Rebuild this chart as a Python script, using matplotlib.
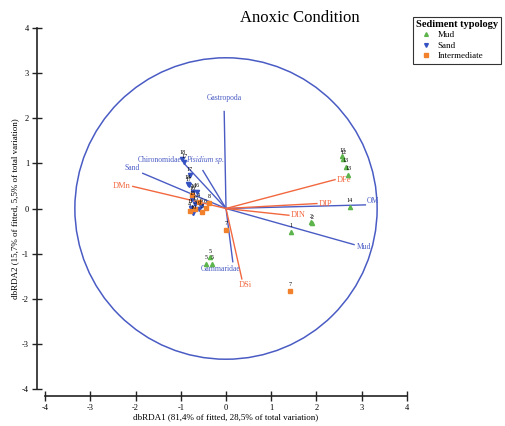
import numpy as np
import matplotlib
matplotlib.use("Agg")
import matplotlib.pyplot as plt
from matplotlib.patches import Circle

plt.rcParams["font.family"] = ["Liberation Serif", "DejaVu Serif"]
plt.rcParams["axes.unicode_minus"] = False

# vectores de variables biologicas (azul) y ambientales (rojo) - dbRDA1, dbRDA2
bio_nombres = ["Gastropoda", "Pisidium sp.", "Chironomidae", "Sand", "OM", "Mud", "Gammaridae"]
bio_x = [-0.04, -0.51, -0.91, -1.84, 3.08, 2.83, 0.15]
bio_y = [2.15, 0.84, 0.98, 0.78, 0.08, -0.80, -1.18]

amb_nombres = ["DMn", "DFe", "DIP", "DIN", "DSi"]
amb_x = [-2.06, 2.41, 2.01, 1.39, 0.35]
amb_y = [0.49, 0.64, 0.11, -0.15, -1.56]

# muestras por tipo de sedimento: coordenadas y numero de estacion
mud_x = [2.57, 2.59, 2.65, 2.70, 2.74, 1.88, 1.91, 1.44, -0.36, -0.44, -0.31]
mud_y = [1.16, 1.10, 0.93, 0.75, 0.04, -0.30, -0.33, -0.51, -1.08, -1.22, -1.22]
mud_id = ["13", "12", "13", "13", "14", "2", "2", "1", "5", "5", "5"]

sand_x = [-0.97, -0.92, -0.80, -0.85, -0.82, -0.72, -0.65, -0.75, -0.68, -0.78, -0.60, -0.72, -0.55]
sand_y = [1.10, 1.02, 0.74, 0.55, 0.52, 0.36, 0.37, 0.20, 0.10, 0.02, -0.02, -0.10, 0.05]
sand_id = ["18", "17", "17", "18", "17", "16", "16", "15", "15", "11", "9", "10", "6"]

inter_x = [-0.75, -0.60, -0.68, -0.52, -0.80, -0.45, -0.38, 0.00, 1.42]
inter_y = [0.30, 0.15, 0.00, -0.08, -0.05, 0.02, 0.13, -0.47, -1.82]
inter_id = ["16", "4", "3", "3", "4", "6", "8", "7", "7"]

ticks = [-4, -3, -2, -1, 0, 1, 2, 3, 4]
radio = 3.34

azul = "#4a5cc4"
rojo = "#f2683f"
verde = "#5db44c"
naranja = "#f2812e"
azul_pt = "#3552c2"

fig = plt.figure(figsize=(5.06, 4.26), dpi=100)
ax = fig.add_axes([45 / 506, 37 / 426, 362 / 506, 361 / 426])

ax.add_patch(Circle((0, 0), radio, fill=False, color=azul, lw=1.1))

# lineas desde el origen y etiquetas al final
alin_bio = {"Gastropoda": ("center", "bottom", 0.0, 0.22),
            "Pisidium sp.": ("center", "bottom", 0.05, 0.15),
            "Chironomidae": ("center", "bottom", -0.55, 0.0),
            "Sand": ("right", "bottom", -0.06, 0.02),
            "OM": ("left", "bottom", 0.04, 0.0),
            "Mud": ("left", "center", 0.05, -0.06),
            "Gammaridae": ("center", "top", -0.28, -0.08)}
for n, x, y in zip(bio_nombres, bio_x, bio_y):
    ax.plot([0, x], [0, y], color=azul, lw=1.0, zorder=2)
    ha, va, dx, dy = alin_bio[n]
    estilo = "italic" if n == "Pisidium sp." else "normal"
    ax.text(x + dx, y + dy, n, color=azul, fontsize=5.5, ha=ha, va=va, style=estilo)

alin_amb = {"DMn": ("right", "center", -0.04, 0.0),
            "DFe": ("left", "center", 0.03, 0.0),
            "DIP": ("left", "center", 0.03, 0.0),
            "DIN": ("left", "center", 0.03, 0.0),
            "DSi": ("center", "top", 0.07, -0.05)}
for n, x, y in zip(amb_nombres, amb_x, amb_y):
    ax.plot([0, x], [0, y], color=rojo, lw=1.0, zorder=2)
    ha, va, dx, dy = alin_amb[n]
    ax.text(x + dx, y + dy, n, color=rojo, fontsize=6, ha=ha, va=va)

ax.plot(mud_x, mud_y, "^", color=verde, ms=3, ls="none", zorder=3, label="Mud")
ax.plot(sand_x, sand_y, "v", color=azul_pt, ms=3, ls="none", zorder=3, label="Sand")
ax.plot(inter_x, inter_y, "s", color=naranja, ms=2.6, ls="none", zorder=3, label="Intermediate")

for xs, ys, ids in [(mud_x, mud_y, mud_id), (sand_x, sand_y, sand_id), (inter_x, inter_y, inter_id)]:
    for x, y, t in zip(xs, ys, ids):
        ax.annotate(t, (x, y), xytext=(0, 2.5), textcoords="offset points",
                    ha="center", va="bottom", fontsize=4.3, color="black", zorder=4)

ax.set_xlim(-4, 4)
ax.set_ylim(-4, 4)
ax.set_xticks(ticks)
ax.set_yticks(ticks)

# ejes separados del area de datos
for lado in ["top", "right"]:
    ax.spines[lado].set_visible(False)
ax.spines["left"].set_position(("outward", 6))
ax.spines["bottom"].set_position(("outward", 5))
for lado in ["left", "bottom"]:
    ax.spines[lado].set_linewidth(1.2)
    ax.spines[lado].set_color("#222222")
ax.tick_params(direction="inout", length=7, width=1.0, labelsize=6, color="#222222", pad=2)

ax.set_xlabel("dbRDA1 (81,4% of fitted, 28,5% of total variation)", fontsize=6.5, labelpad=1)
ax.set_ylabel("dbRDA2 (15,7% of fitted, 5,5% of total variation)", fontsize=6.5, labelpad=2)

fig.text(300 / 506, 1 - 18 / 426, "Anoxic Condition", fontsize=12, ha="center", va="center")

ley = fig.legend(loc="upper right", bbox_to_anchor=(1.0, 1 - 12 / 426),
                 title="Sediment typology", fontsize=6.5, title_fontsize=7.5,
                 frameon=True, fancybox=False, edgecolor="black",
                 handlelength=2.2, handletextpad=0.2, borderpad=0.35,
                 labelspacing=0.25, markerscale=0.9, alignment="left")
ley.get_title().set_fontweight("bold")
ley.get_frame().set_linewidth(0.8)

fig.savefig("out.png", dpi=100)
